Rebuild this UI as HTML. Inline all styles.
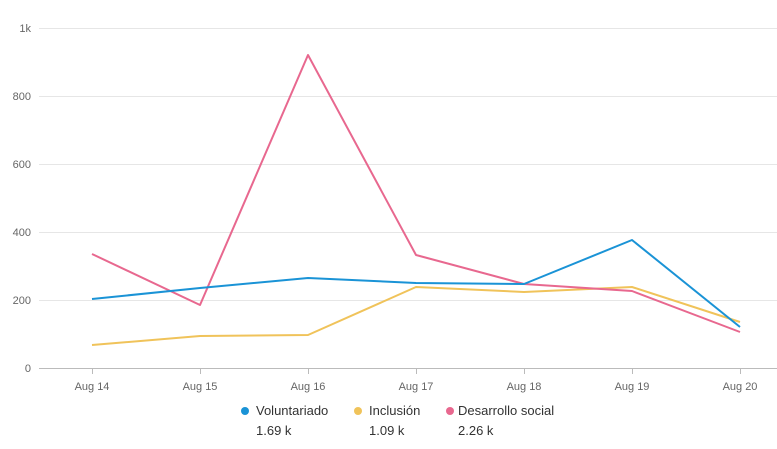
<!DOCTYPE html><html><head><style>body{margin:0;background:#fff;}svg{display:block;font-family:"Liberation Sans",Arial,sans-serif;}</style></head><body>
<svg width="777" height="449" xmlns="http://www.w3.org/2000/svg">
<g stroke="#e6e6e6" stroke-width="1">
<line x1="39" x2="777" y1="28.5" y2="28.5"/><line x1="39" x2="777" y1="96.5" y2="96.5"/><line x1="39" x2="777" y1="164.5" y2="164.5"/><line x1="39" x2="777" y1="232.5" y2="232.5"/><line x1="39" x2="777" y1="300.5" y2="300.5"/>
</g>
<line x1="39" x2="777" y1="368.5" y2="368.5" stroke="#bbb"/>
<g stroke="#bbb"><line x1="92.5" x2="92.5" y1="368" y2="374"/><line x1="200.5" x2="200.5" y1="368" y2="374"/><line x1="308.5" x2="308.5" y1="368" y2="374"/><line x1="416.5" x2="416.5" y1="368" y2="374"/><line x1="524.5" x2="524.5" y1="368" y2="374"/><line x1="632.5" x2="632.5" y1="368" y2="374"/><line x1="740.5" x2="740.5" y1="368" y2="374"/></g>
<g fill="#666" font-size="11" text-anchor="end">
<text x="31" y="32">1k</text><text x="31" y="100">800</text><text x="31" y="168">600</text><text x="31" y="236">400</text><text x="31" y="304">200</text><text x="31" y="372">0</text></g>
<g fill="#666" font-size="11" text-anchor="middle">
<text x="92" y="390">Aug 14</text><text x="200" y="390">Aug 15</text><text x="308" y="390">Aug 16</text><text x="416" y="390">Aug 17</text><text x="524" y="390">Aug 18</text><text x="632" y="390">Aug 19</text><text x="740" y="390">Aug 20</text></g>
<g fill="none" stroke-width="2" stroke-linejoin="round">
<polyline stroke="#f0c35a" points="92,345 200,336 308,335 416,287 524,292 632,287 740,322"/>
<polyline stroke="#e8688f" points="92,254 200,305 308,55 416,255 524,284 632,291 740,332"/>
<polyline stroke="#1a93d6" points="92,299 200,288 308,278 416,283 524,284 632,240 740,327"/>
</g>
<g font-size="13" fill="#333">
<circle cx="245" cy="411" r="4" fill="#1a93d6"/><text x="256" y="415">Voluntariado</text><text x="256" y="435">1.69 k</text>
<circle cx="358" cy="411" r="4" fill="#f0c35a"/><text x="369" y="415">Inclusión</text><text x="369" y="435">1.09 k</text>
<circle cx="450" cy="411" r="4" fill="#e8688f"/><text x="458" y="415">Desarrollo social</text><text x="458" y="435">2.26 k</text>
</g>
</svg></body></html>
